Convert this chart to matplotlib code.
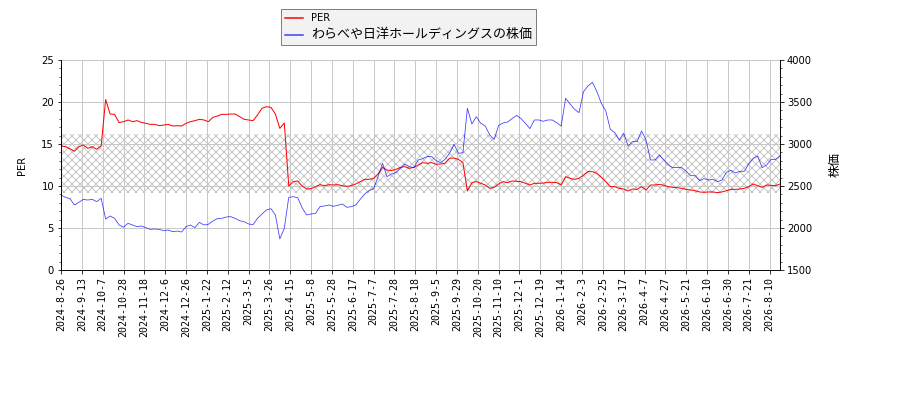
import matplotlib
matplotlib.use('Agg')
import matplotlib.pyplot as plt
from matplotlib.ticker import MultipleLocator
import numpy as np

plt.rcParams['font.family'] = ['DejaVu Sans', 'Noto Sans CJK JP']
plt.rcParams['hatch.linewidth'] = 0.9

# date labels, one every 14 trading days
tick_labels = ['2024-8-26', '2024-9-13', '2024-10-7', '2024-10-28', '2024-11-18',
               '2024-12-6', '2024-12-26', '2025-1-22', '2025-2-12', '2025-3-5',
               '2025-3-26', '2025-4-15', '2025-5-8', '2025-5-28', '2025-6-17',
               '2025-7-7', '2025-7-28', '2025-8-18', '2025-9-5', '2025-9-29',
               '2025-10-20', '2025-11-10', '2025-12-1', '2025-12-19', '2026-1-14',
               '2026-2-3', '2026-2-25', '2026-3-17', '2026-4-7', '2026-4-27',
               '2026-5-21', '2026-6-10', '2026-6-30', '2026-7-21', '2026-8-10']

# PER, sampled every 3 trading days
per = [14.76, 14.68, 14.44, 14.13, 14.68, 14.88, 14.48, 14.68, 14.37, 14.8,
       20.3, 18.57, 18.53, 17.54, 17.66, 17.86, 17.66, 17.78, 17.58, 17.46,
       17.34, 17.34, 17.18, 17.26, 17.34, 17.14, 17.18, 17.14, 17.46, 17.66,
       17.78, 17.94, 17.86, 17.66, 18.17, 18.33, 18.53, 18.53, 18.57, 18.57,
       18.25, 17.94, 17.86, 17.78, 18.45, 19.25, 19.44, 19.37, 18.57, 16.86,
       17.5, 10.0, 10.52, 10.6, 10.0, 9.64, 9.68, 9.92, 10.16, 10.04,
       10.16, 10.12, 10.16, 10.04, 9.96, 10.04, 10.24, 10.52, 10.79, 10.79,
       10.91, 11.43, 12.22, 11.9, 11.83, 11.98, 12.22, 12.3, 12.1, 12.22,
       12.5, 12.78, 12.7, 12.78, 12.58, 12.62, 12.7, 13.3, 13.33, 13.17,
       12.78, 9.4, 10.4, 10.52, 10.32, 10.12, 9.72, 9.84, 10.24, 10.52,
       10.4, 10.6, 10.56, 10.52, 10.32, 10.12, 10.32, 10.32, 10.35, 10.44,
       10.44, 10.4, 10.12, 11.11, 10.91, 10.79, 10.91, 11.31, 11.71, 11.71,
       11.51, 11.03, 10.52, 9.92, 9.92, 9.72, 9.64, 9.4, 9.64, 9.6,
       9.92, 9.52, 10.12, 10.12, 10.2, 10.08, 9.92, 9.84, 9.8, 9.72,
       9.6, 9.52, 9.44, 9.29, 9.25, 9.29, 9.29, 9.21, 9.29, 9.44,
       9.6, 9.6, 9.64, 9.72, 9.92, 10.24, 10.04, 9.84, 10.12, 10.08, 10.04, 10.24]

# share price, same sampling
price = [2393, 2365, 2350, 2274, 2306, 2341, 2333, 2341, 2314, 2353,
         2107, 2143, 2115, 2036, 2008, 2056, 2036, 2016, 2024, 2004,
         1984, 1988, 1984, 1968, 1976, 1956, 1964, 1952, 2016, 2036,
         2004, 2067, 2036, 2044, 2083, 2111, 2115, 2131, 2135, 2115,
         2087, 2075, 2048, 2040, 2115, 2167, 2214, 2230, 2155, 1870,
         1996, 2365, 2373, 2361, 2240, 2155, 2167, 2174, 2254, 2262,
         2274, 2258, 2270, 2286, 2246, 2254, 2274, 2341, 2405, 2445,
         2468, 2611, 2770, 2611, 2643, 2659, 2710, 2762, 2730, 2718,
         2810, 2826, 2850, 2850, 2802, 2778, 2818, 2889, 2996, 2889,
         2897, 3425, 3238, 3325, 3246, 3214, 3107, 3055, 3222, 3250,
         3262, 3302, 3341, 3302, 3246, 3183, 3286, 3286, 3270, 3286,
         3286, 3254, 3214, 3544, 3476, 3413, 3373, 3623, 3691, 3734,
         3623, 3484, 3393, 3175, 3135, 3048, 3127, 2976, 3028, 3028,
         3155, 3048, 2810, 2810, 2869, 2810, 2750, 2718, 2722, 2718,
         2675, 2623, 2623, 2564, 2588, 2571, 2580, 2552, 2571, 2663,
         2687, 2655, 2675, 2675, 2762, 2829, 2857, 2718, 2750, 2817, 2817, 2857]

per_band = (9.17, 16.2)
x = np.arange(len(per)) * 3

fig = plt.figure(figsize=(900 / 72, 400 / 72), dpi=72)
ax1 = fig.add_axes([61 / 900, 130 / 400, 719 / 900, 210 / 400])
ax2 = ax1.twinx()

ax1.axhspan(per_band[0], per_band[1], facecolor='none', edgecolor='#c4c4c4',
            hatch='xxx', linewidth=0)
l1, = ax1.plot(x, per, color='red', lw=1.0, label='PER')
l2, = ax2.plot(x, price, color='blue', lw=0.8, alpha=0.75,
               label='わらべや日洋ホールディングスの株価')

ax1.set_xlim(0, x[-1])
ax1.set_ylim(0, 25)
ax2.set_ylim(1500, 4000)
ax1.set_xticks(np.arange(len(tick_labels)) * 14)
ax1.set_xticklabels(tick_labels, rotation=90, family='DejaVu Sans Mono', fontsize=10)
ax1.yaxis.set_major_locator(MultipleLocator(5))
ax1.yaxis.set_minor_locator(MultipleLocator(1))
ax2.yaxis.set_major_locator(MultipleLocator(500))
ax2.yaxis.set_minor_locator(MultipleLocator(100))
ax1.grid(True, color='#c8c8c8', lw=1)
for ax in (ax1, ax2):
    ax.spines['top'].set_visible(False)

ax1.set_ylabel('PER', labelpad=14)
ax2.set_ylabel('株価', fontsize=12.5, labelpad=16)

leg = fig.legend([l1, l2], [l1.get_label(), l2.get_label()], loc='upper left',
                 bbox_to_anchor=(281 / 900, 1 - 9 / 400), fancybox=False,
                 edgecolor='#808080', facecolor='#f2f2f2', framealpha=1,
                 borderaxespad=0, handlelength=1.8)
leg.get_texts()[1].set_fontsize(13)
for h in leg.get_lines():
    h.set_linewidth(1.5)

fig.savefig('out.png', dpi=72)
